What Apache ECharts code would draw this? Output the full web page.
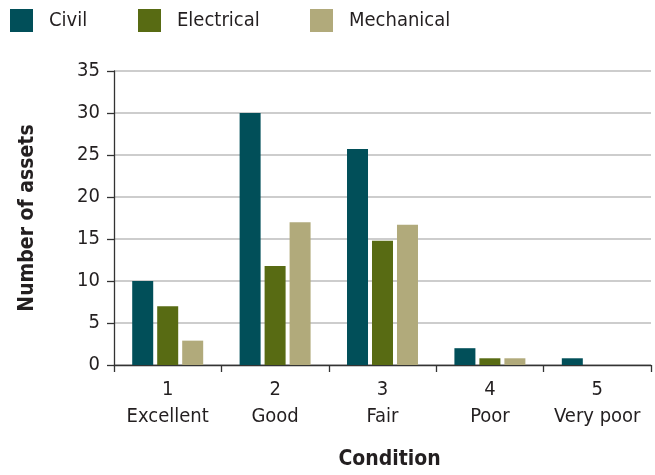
<!DOCTYPE html>
<html><head><meta charset="utf-8">
<script src="https://cdn.jsdelivr.net/npm/echarts@6/dist/echarts.min.js"></script>
<style>html,body{margin:0;padding:0;background:#fff}#c{width:655px;height:475px}</style>
</head><body><div id="c"></div>
<script>
const categories = ['1\nExcellent', '2\nGood', '3\nFair', '4\nPoor', '5\nVery poor'];
const seriesNames = ['Civil', 'Electrical', 'Mechanical'];
const civil = [10, 30, 25.7, 2, 0.8];
const electrical = [7, 11.8, 14.8, 0.8, 0];
const mechanical = [2.9, 17, 16.7, 0.8, 0];
const yTicks = {min: 0, max: 35, interval: 5};
const colors = ['#014f59', '#586b13', '#b1aa7b'];

const FONT = '"DejaVu Sans Condensed", "Roboto", sans-serif';
const TXT = '#231f20';
const chart = echarts.init(document.getElementById('c'), null, {renderer: 'canvas'});
const legendLefts = [10, 138, 310];
const seriesData = [civil, electrical, mechanical];
chart.setOption({
  animation: false,
  legend: seriesNames.map((n, i) => ({
    data: [n], left: legendLefts[i], top: 9, padding: 0,
    itemWidth: 23, itemHeight: 23, icon: 'rect',
    textStyle: {fontFamily: FONT, fontSize: 20, color: TXT, padding: [0, 0, 0, 11]}
  })),
  grid: {left: 114, right: 4, top: 71, bottom: 104},
  xAxis: {
    type: 'category', data: categories,
    name: 'Condition', nameLocation: 'middle', nameGap: 84,
    nameTextStyle: {fontFamily: FONT, fontSize: 21, fontWeight: 'bold', color: TXT, padding: [0, 0, 0, 14]},
    axisLine: {lineStyle: {color: '#333', width: 1.3}},
    axisTick: {show: true, length: 7, lineStyle: {color: '#333', width: 1.3}},
    axisLabel: {interval: 0, fontFamily: FONT, fontSize: 20, color: TXT, margin: 11, lineHeight: 27}
  },
  yAxis: {
    type: 'value', min: yTicks.min, max: yTicks.max, interval: yTicks.interval,
    name: 'Number of assets', nameLocation: 'middle', nameGap: 76, nameRotate: 90,
    nameTextStyle: {fontFamily: FONT, fontSize: 21, fontWeight: 'bold', color: TXT},
    axisLine: {show: true, lineStyle: {color: '#333', width: 1.3}},
    axisTick: {show: true, length: 7, lineStyle: {color: '#333', width: 1.3}},
    axisLabel: {fontFamily: FONT, fontSize: 20, color: TXT, margin: 14},
    splitLine: {show: true, lineStyle: {color: '#bcbcbc', width: 1.5}}
  },
  series: seriesNames.map((n, i) => ({
    name: n, type: 'bar', data: seriesData[i], barWidth: 21, barGap: '19%',
    itemStyle: {color: colors[i]}
  }))
});
</script></body></html>
